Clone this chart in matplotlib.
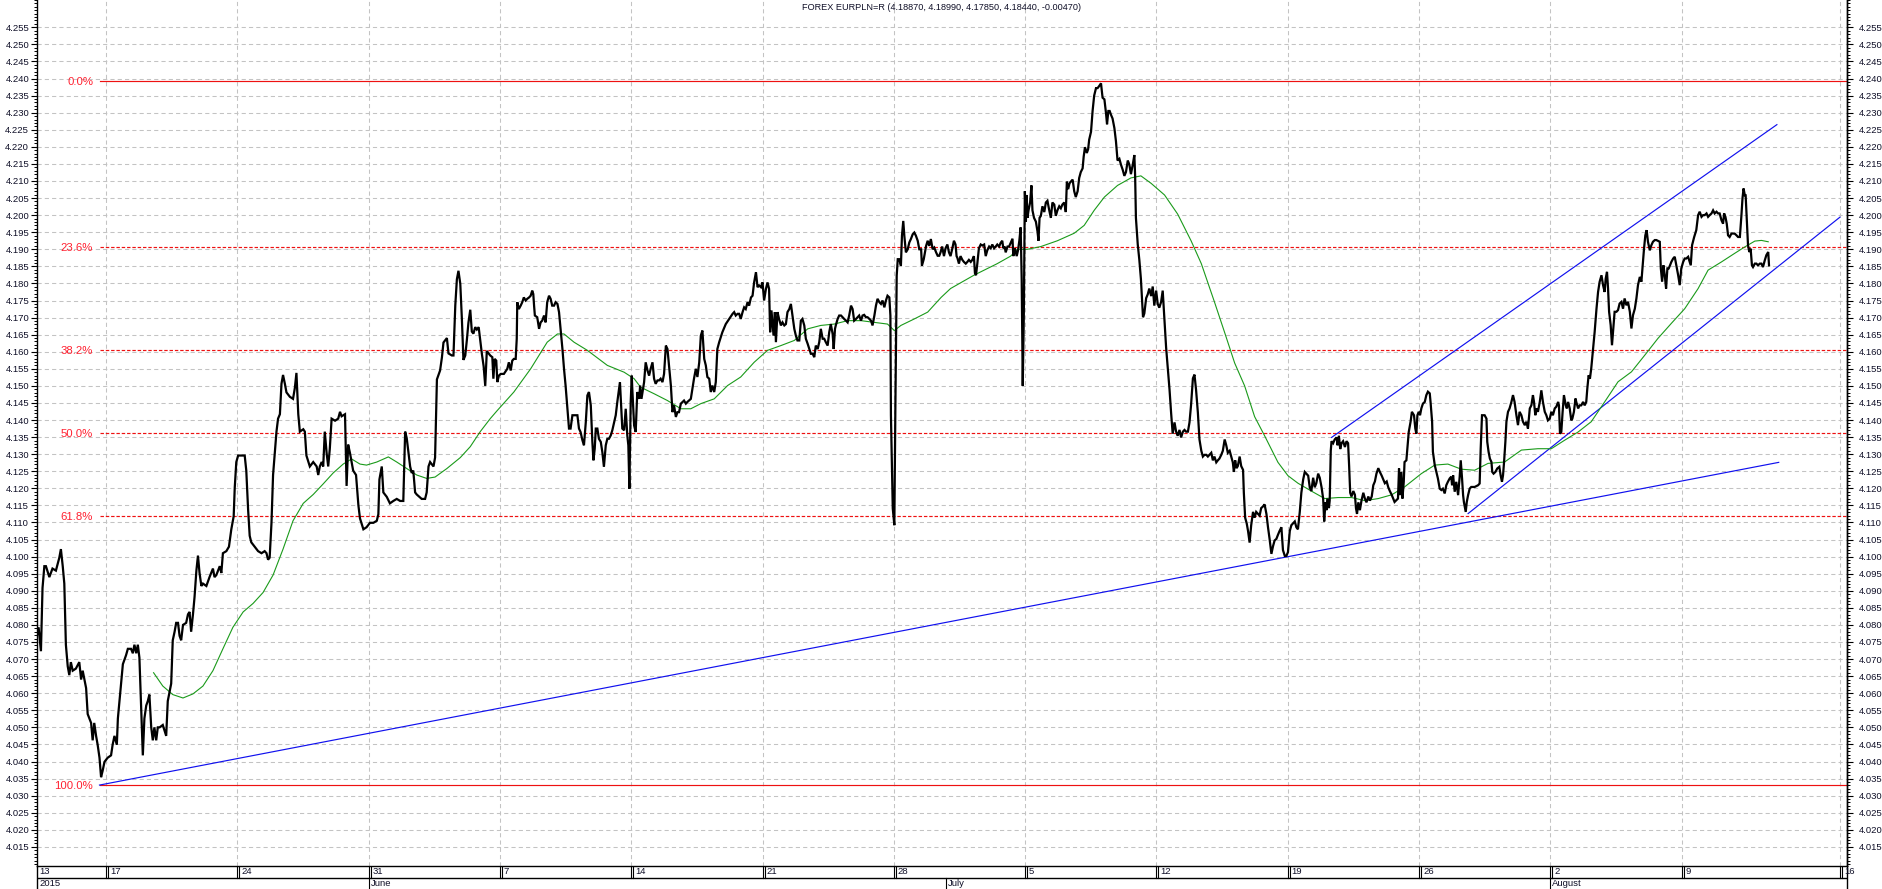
import matplotlib
matplotlib.use('Agg')
import matplotlib.pyplot as plt
import numpy as np
from matplotlib.ticker import MultipleLocator, FixedLocator, FormatStrFormatter
from matplotlib.transforms import offset_copy

plt.rcParams['font.family'] = ['Liberation Sans', 'DejaVu Sans']

title = "FOREX EURPLN=R (4.18870, 4.18990, 4.17850, 4.18440, -0.00470)"

# x = trading days counted from Mon 18 May 2015 (week tick "17"); y = EUR/PLN
seg_may = [(-2.67,4.0755),(-2.57,4.0793),(-2.48,4.0723),(-2.42,4.0908),(-2.35,4.0972),(-2.29,4.0972),(-2.16,4.0940),(-2.04,4.0965),(-1.91,4.0959),(-1.78,4.0997),(-1.72,4.1022),(-1.65,4.0972),(-1.59,4.0921),(-1.53,4.0742),(-1.46,4.0679),(-1.40,4.0653),(-1.34,4.0691),(-1.27,4.0666),(-1.15,4.0672),(-1.02,4.0691),(-0.95,4.0640),(-0.89,4.0666),(-0.76,4.0615),(-0.70,4.0539),(-0.57,4.0513),(-0.51,4.0462),(-0.45,4.0513),(-0.38,4.0475),(-0.32,4.0449),(-0.25,4.0411),(-0.19,4.0354),(-0.13,4.0373),(-0.06,4.0399),(0.06,4.0411),(0.19,4.0418),(0.25,4.0449),(0.32,4.0475),(0.41,4.0449),(0.45,4.0526),(0.57,4.0628),(0.64,4.0685),(0.76,4.0711),(0.83,4.0730),(0.95,4.0730),(1.02,4.0717),(1.08,4.0742),(1.15,4.0717),(1.21,4.0742),(1.27,4.0704),(1.34,4.0551),(1.40,4.0418),(1.46,4.0526),(1.53,4.0564),(1.59,4.0577),(1.65,4.0596),(1.72,4.0500),(1.78,4.0462),(1.84,4.0500),(1.91,4.0462),(1.97,4.0500),(2.04,4.0500),(2.16,4.0507),(2.29,4.0475),(2.35,4.0577),(2.48,4.0628),(2.54,4.0755),(2.61,4.0780),(2.67,4.0806),(2.74,4.0806),(2.80,4.0768),(2.86,4.0755),(2.93,4.0800),(3.05,4.0806),(3.12,4.0831),(3.18,4.0838),(3.24,4.0780),(3.31,4.0831),(3.37,4.0882),(3.44,4.0959),(3.50,4.1003),(3.56,4.0952),(3.63,4.0914),(3.69,4.0921),(3.82,4.0914),(3.94,4.0940),(4.07,4.0965),(4.13,4.0940),(4.20,4.0946),(4.33,4.0972),(4.39,4.0952),(4.45,4.1010),(4.58,4.1016),(4.68,4.1029),(4.77,4.1080),(4.86,4.1118),(4.90,4.1201),(4.96,4.1277),(5.03,4.1296),(5.15,4.1296),(5.28,4.1296),(5.34,4.1252),(5.41,4.1137),(5.47,4.1061),(5.53,4.1042),(5.66,4.1029),(5.79,4.1016),(5.92,4.1010),(6.04,4.1016),(6.11,4.1010),(6.17,4.0991),(6.23,4.0997),(6.30,4.1099),(6.36,4.1239),(6.49,4.1366),(6.55,4.1404),(6.62,4.1417),(6.68,4.1506),(6.74,4.1532),(6.81,4.1506),(6.87,4.1481),(7.00,4.1468),(7.12,4.1462),(7.19,4.1494),(7.25,4.1538),(7.32,4.1417),(7.38,4.1366),(7.51,4.1373),(7.57,4.1366),(7.63,4.1296),(7.76,4.1264),(7.89,4.1277),(8.02,4.1264),(8.08,4.1239),(8.14,4.1264),(8.21,4.1277),(8.27,4.1264),(8.33,4.1366),(8.40,4.1303),(8.46,4.1264),(8.52,4.1315),(8.59,4.1404),(8.72,4.1398),(8.84,4.1404),(8.91,4.1424),(8.97,4.1411),(9.10,4.1417),(9.16,4.1207),(9.22,4.1328),(9.29,4.1303),(9.41,4.1252),(9.52,4.1239),(9.61,4.1150),(9.67,4.1112),(9.80,4.1080),(9.92,4.1086),(10.05,4.1099),(10.18,4.1099),(10.31,4.1105),(10.37,4.1124),(10.41,4.1226),(10.50,4.1264),(10.56,4.1188),(10.69,4.1175),(10.81,4.1156),(10.94,4.1163),(11.07,4.1169),(11.20,4.1163),(11.32,4.1163),(11.39,4.1366),(11.45,4.1347),(11.58,4.1264),(11.64,4.1245),(11.70,4.1252),(11.77,4.1188),(11.83,4.1182),(12.02,4.1169),(12.15,4.1169),(12.21,4.1188),(12.28,4.1264),(12.34,4.1277),(12.47,4.1264),(12.53,4.1290),(12.60,4.1519),(12.72,4.1545),(12.79,4.1583),(12.85,4.1627),(12.98,4.1640),(13.04,4.1595),(13.17,4.1589),(13.23,4.1589),(13.30,4.1736),(13.36,4.1812),(13.42,4.1837),(13.49,4.1799),(13.55,4.1697),(13.61,4.1576),(13.68,4.1589),(13.74,4.1634),(13.80,4.1685),(13.87,4.1723),(13.93,4.1659),(13.99,4.1653),(14.06,4.1672),(14.12,4.1665),(14.19,4.1672),(14.31,4.1595),(14.38,4.1557),(14.44,4.1500),(14.50,4.1602),(14.57,4.1595),(14.63,4.1589)]

seg_june = [(14.71,4.1584),(14.75,4.1521),(14.80,4.1579),(14.86,4.1574),(14.90,4.1511),(14.96,4.1530),(15.03,4.1535),(15.15,4.1535),(15.28,4.1550),(15.34,4.1569),(15.41,4.1545),(15.47,4.1574),(15.53,4.1579),(15.60,4.1579),(15.64,4.1638),(15.66,4.1745),(15.72,4.1725),(15.79,4.1735),(15.85,4.1745),(15.91,4.1759),(15.98,4.1750),(16.04,4.1755),(16.11,4.1759),(16.17,4.1764),(16.23,4.1779),(16.27,4.1769),(16.30,4.1735),(16.33,4.1706),(16.42,4.1701),(16.49,4.1667),(16.55,4.1686),(16.61,4.1691),(16.68,4.1706),(16.74,4.1686),(16.80,4.1745),(16.87,4.1764),(16.93,4.1755),(16.99,4.1735),(17.06,4.1735),(17.12,4.1745),(17.19,4.1740),(17.25,4.1716),(17.31,4.1667),(17.38,4.1608),(17.44,4.1550),(17.50,4.1501),(17.57,4.1433),(17.63,4.1375),(17.69,4.1375),(17.76,4.1414),(17.88,4.1414),(17.95,4.1414),(18.01,4.1375),(18.07,4.1365),(18.14,4.1341),(18.20,4.1326),(18.27,4.1394),(18.33,4.1472),(18.39,4.1482),(18.46,4.1443),(18.52,4.1336),(18.56,4.1282),(18.61,4.1316),(18.65,4.1375),(18.71,4.1375),(18.77,4.1345),(18.84,4.1336),(18.90,4.1306),(18.96,4.1263),(19.03,4.1326),(19.09,4.1345),(19.15,4.1345),(19.22,4.1355),(19.28,4.1370),(19.35,4.1394),(19.41,4.1414),(19.47,4.1453),(19.54,4.1492),(19.57,4.1511),(19.62,4.1433),(19.66,4.1375),(19.73,4.1370),(19.79,4.1433),(19.85,4.1355),(19.89,4.1326),(19.93,4.1199),(19.98,4.1453),(20.02,4.1530),(20.04,4.1492),(20.11,4.1384),(20.17,4.1365),(20.23,4.1482),(20.30,4.1462),(20.34,4.1501),(20.39,4.1462),(20.43,4.1482),(20.49,4.1511),(20.55,4.1569),(20.62,4.1545),(20.68,4.1530),(20.74,4.1550),(20.81,4.1569),(20.87,4.1521),(20.93,4.1506),(21.00,4.1516),(21.06,4.1516),(21.12,4.1521),(21.19,4.1511),(21.25,4.1535),(21.32,4.1618),(21.38,4.1608),(21.44,4.1560),(21.51,4.1501),(21.57,4.1423),(21.63,4.1443),(21.70,4.1409),(21.76,4.1423),(21.82,4.1423),(21.89,4.1448),(22.01,4.1457),(22.08,4.1448),(22.14,4.1453),(22.20,4.1457),(22.27,4.1462),(22.33,4.1492),(22.39,4.1521),(22.46,4.1550),(22.52,4.1526),(22.59,4.1569),(22.65,4.1647),(22.71,4.1662),(22.78,4.1579),(22.84,4.1560),(22.90,4.1526),(22.97,4.1521),(23.03,4.1482),(23.09,4.1501),(23.16,4.1482),(23.22,4.1511),(23.28,4.1608),(23.35,4.1628),(23.47,4.1657),(23.60,4.1681),(23.73,4.1696),(23.86,4.1711),(23.92,4.1716),(23.98,4.1706),(24.05,4.1711),(24.11,4.1711),(24.17,4.1696),(24.24,4.1716),(24.30,4.1730),(24.36,4.1725),(24.43,4.1745),(24.49,4.1735),(24.56,4.1759),(24.62,4.1764),(24.68,4.1803),(24.75,4.1833),(24.81,4.1789),(24.87,4.1794),(24.94,4.1789),(25.00,4.1803),(25.06,4.1750),(25.13,4.1784),(25.19,4.1803),(25.25,4.1784),(25.29,4.1657),(25.34,4.1721),(25.42,4.1647),(25.47,4.1716),(25.51,4.1628),(25.57,4.1716),(25.63,4.1696),(25.70,4.1677),(25.76,4.1686),(25.83,4.1677),(25.89,4.1681),(25.95,4.1716),(26.02,4.1725),(26.08,4.1740),(26.14,4.1706),(26.21,4.1667),(26.27,4.1647),(26.33,4.1633),(26.40,4.1633),(26.46,4.1691),(26.52,4.1696),(26.59,4.1677),(26.65,4.1638),(26.72,4.1623),(26.78,4.1608),(26.84,4.1594),(26.91,4.1594),(26.97,4.1584),(27.03,4.1618),(27.10,4.1608),(27.16,4.1628),(27.22,4.1667),(27.29,4.1638),(27.35,4.1638),(27.41,4.1628),(27.48,4.1618),(27.54,4.1657),(27.60,4.1681),(27.67,4.1652),(27.71,4.1608),(27.76,4.1667),(27.79,4.1677),(27.86,4.1696),(27.92,4.1706),(27.99,4.1706),(28.05,4.1701),(28.11,4.1696),(28.18,4.1691),(28.24,4.1686),(28.30,4.1706),(28.37,4.1735),(28.43,4.1725),(28.49,4.1691),(28.56,4.1696),(28.62,4.1701),(28.68,4.1706),(28.75,4.1691),(28.81,4.1706),(28.87,4.1708),(28.94,4.1701),(29.00,4.1701),(29.07,4.1696),(29.13,4.1691),(29.19,4.1677),(29.26,4.1706),(29.32,4.1735),(29.38,4.1755),(29.45,4.1745),(29.51,4.1740),(29.57,4.1750),(29.64,4.1730),(29.70,4.1750),(29.76,4.1764),(29.83,4.1759),(29.87,4.1706),(29.89,4.1414),(29.96,4.1141),(30.02,4.1092),(30.06,4.1443),(30.11,4.1823),(30.15,4.1871),(30.21,4.1871),(30.27,4.1852),(30.31,4.1940),(30.36,4.1983),(30.40,4.1940),(30.46,4.1891),(30.53,4.1900),(30.59,4.1920),(30.65,4.1930),(30.72,4.1944),(30.78,4.1949),(30.84,4.1940),(30.91,4.1925),(30.97,4.1900),(31.04,4.1900),(31.07,4.1852),(31.14,4.1871),(31.23,4.1910),(31.29,4.1925),(31.35,4.1910),(31.41,4.1930),(31.48,4.1900),(31.54,4.1905),(31.61,4.1891),(31.67,4.1881),(31.73,4.1881)]

seg_july = [(31.78,4.1891),(31.84,4.1908),(31.91,4.1880),(31.97,4.1903),(32.04,4.1914),(32.10,4.1891),(32.16,4.1880),(32.23,4.1903),(32.29,4.1925),(32.35,4.1914),(32.39,4.1880),(32.42,4.1875),(32.48,4.1858),(32.54,4.1880),(32.61,4.1869),(32.67,4.1863),(32.74,4.1858),(32.80,4.1863),(32.86,4.1869),(32.93,4.1863),(32.99,4.1869),(33.05,4.1880),(33.09,4.1830),(33.13,4.1824),(33.18,4.1858),(33.24,4.1903),(33.31,4.1914),(33.37,4.1911),(33.44,4.1914),(33.50,4.1880),(33.56,4.1897),(33.63,4.1908),(33.69,4.1903),(33.75,4.1914),(33.82,4.1903),(33.88,4.1908),(33.94,4.1914),(34.01,4.1908),(34.07,4.1919),(34.13,4.1925),(34.17,4.1903),(34.22,4.1908),(34.26,4.1891),(34.33,4.1908),(34.39,4.1908),(34.45,4.1919),(34.52,4.1931),(34.55,4.1880),(34.61,4.1903),(34.68,4.1880),(34.73,4.1897),(34.78,4.1925),(34.83,4.1964),(34.87,4.1813),(34.91,4.1500),(34.95,4.1701),(34.99,4.2070),(35.03,4.1981),(35.06,4.2059),(35.09,4.1992),(35.13,4.2014),(35.19,4.2037),(35.24,4.2087),(35.28,4.2014),(35.34,4.1992),(35.41,4.1981),(35.47,4.1953),(35.51,4.1925),(35.55,4.1992),(35.60,4.1998),(35.66,4.2026),(35.73,4.2009),(35.79,4.2037),(35.85,4.2042),(35.92,4.2014),(35.98,4.1992),(36.04,4.2037),(36.11,4.2031),(36.17,4.1998),(36.23,4.2014),(36.30,4.2026),(36.36,4.2020),(36.42,4.2031),(36.49,4.2037),(36.55,4.2009),(36.59,4.2098),(36.64,4.2076),(36.69,4.2093),(36.74,4.2098),(36.81,4.2104),(36.87,4.2070),(36.93,4.2053),(37.00,4.2070),(37.06,4.2109),(37.12,4.2126),(37.19,4.2137),(37.23,4.2171),(37.28,4.2199),(37.35,4.2182),(37.40,4.2193),(37.44,4.2221),(37.51,4.2244),(37.57,4.2305),(37.63,4.2350),(37.70,4.2372),(37.76,4.2372),(37.82,4.2378),(37.89,4.2386),(37.95,4.2344),(38.02,4.2339),(38.08,4.2299),(38.12,4.2266),(38.17,4.2305),(38.22,4.2305),(38.27,4.2294),(38.33,4.2283),(38.40,4.2255),(38.46,4.2216),(38.52,4.2160),(38.59,4.2165),(38.65,4.2148),(38.72,4.2132),(38.78,4.2115),(38.84,4.2126),(38.91,4.2160),(38.97,4.2148),(39.03,4.2120),(39.10,4.2148),(39.16,4.2176),(39.19,4.2115),(39.22,4.1992),(39.29,4.1914),(39.35,4.1869),(39.41,4.1813),(39.45,4.1757),(39.49,4.1701),(39.54,4.1712),(39.61,4.1757),(39.67,4.1768),(39.73,4.1785),(39.80,4.1763),(39.86,4.1791),(39.92,4.1735),(39.99,4.1779),(40.05,4.1740),(40.11,4.1729),(40.18,4.1746),(40.24,4.1779),(40.31,4.1690),(40.37,4.1612),(40.43,4.1556),(40.50,4.1489),(40.56,4.1421),(40.62,4.1360),(40.69,4.1393),(40.75,4.1366),(40.81,4.1354),(40.88,4.1371),(40.94,4.1349),(41.01,4.1366),(41.07,4.1371),(41.13,4.1366),(41.20,4.1366),(41.26,4.1393),(41.32,4.1444),(41.39,4.1522),(41.45,4.1533),(41.51,4.1489),(41.58,4.1421),(41.64,4.1343),(41.71,4.1310),(41.77,4.1293),(41.83,4.1298),(41.90,4.1298),(41.96,4.1293),(42.02,4.1298),(42.09,4.1304),(42.15,4.1282),(42.21,4.1293),(42.28,4.1276),(42.34,4.1282),(42.40,4.1287),(42.47,4.1298),(42.53,4.1310),(42.60,4.1343),(42.66,4.1326),(42.72,4.1304),(42.79,4.1310),(42.85,4.1293),(42.91,4.1276),(42.95,4.1248),(43.00,4.1282),(43.05,4.1259),(43.10,4.1265),(43.17,4.1293),(43.23,4.1265),(43.30,4.1254),(43.33,4.1187),(43.38,4.1114),(43.44,4.1097),(43.49,4.1075),(43.55,4.1041),(43.61,4.1092),(43.68,4.1131),(43.74,4.1114),(43.80,4.1131),(43.87,4.1125),(43.93,4.1120),(43.99,4.1142),(44.06,4.1147),(44.12,4.1153),(44.19,4.1125),(44.25,4.1086),(44.31,4.1052),(44.38,4.1008),(44.44,4.1030),(44.50,4.1047),(44.57,4.1052),(44.63,4.1064),(44.69,4.1075),(44.76,4.1086),(44.82,4.1019),(44.89,4.1002),(44.95,4.1002),(45.01,4.1013),(45.08,4.1075),(45.14,4.1092),(45.20,4.1097),(45.27,4.1103),(45.33,4.1086),(45.39,4.1080),(45.46,4.1131),(45.52,4.1187),(45.59,4.1226),(45.65,4.1248),(45.71,4.1243),(45.78,4.1237),(45.84,4.1203),(45.90,4.1192),(45.97,4.1231),(46.03,4.1203),(46.09,4.1215),(46.16,4.1243),(46.22,4.1231),(46.29,4.1203),(46.35,4.1170),(46.39,4.1103),(46.44,4.1159),(46.48,4.1136),(46.51,4.1170),(46.57,4.1142),(46.60,4.1164),(46.64,4.1310),(46.67,4.1338),(46.73,4.1332),(46.79,4.1343),(46.86,4.1349),(46.90,4.1326),(46.95,4.1354),(47.00,4.1315),(47.05,4.1332),(47.11,4.1338),(47.18,4.1321),(47.24,4.1338),(47.30,4.1332),(47.34,4.1265),(47.38,4.1187),(47.43,4.1176),(47.50,4.1192),(47.56,4.1181),(47.60,4.1142),(47.64,4.1125),(47.69,4.1159),(47.75,4.1136),(47.81,4.1164),(47.88,4.1187),(47.94,4.1170),(48.00,4.1159),(48.07,4.1176),(48.13,4.1164),(48.20,4.1176),(48.26,4.1209),(48.32,4.1220),(48.38,4.1243),(48.45,4.1259),(48.51,4.1248),(48.58,4.1237),(48.64,4.1226),(48.70,4.1215),(48.77,4.1220),(48.83,4.1203),(48.89,4.1192),(48.96,4.1181)]

seg_august = [(49.07,4.1160),(49.20,4.1170),(49.24,4.1258),(49.28,4.1180),(49.33,4.1248),(49.37,4.1170),(49.42,4.1219),(49.45,4.1277),(49.52,4.1282),(49.58,4.1336),(49.61,4.1365),(49.68,4.1395),(49.73,4.1424),(49.81,4.1414),(49.86,4.1375),(49.90,4.1360),(49.94,4.1414),(49.99,4.1424),(50.04,4.1414),(50.09,4.1434),(50.15,4.1448),(50.22,4.1453),(50.28,4.1473),(50.34,4.1483),(50.41,4.1478),(50.44,4.1453),(50.50,4.1395),(50.53,4.1307),(50.60,4.1268),(50.66,4.1248),(50.72,4.1229),(50.79,4.1199),(50.85,4.1195),(50.91,4.1199),(50.98,4.1185),(51.04,4.1209),(51.10,4.1219),(51.17,4.1229),(51.23,4.1234),(51.26,4.1209),(51.30,4.1238),(51.36,4.1190),(51.42,4.1219),(51.49,4.1180),(51.55,4.1234),(51.59,4.1282),(51.64,4.1229),(51.68,4.1180),(51.71,4.1160),(51.78,4.1131),(51.82,4.1160),(51.87,4.1180),(51.93,4.1199),(51.99,4.1204),(52.12,4.1204),(52.25,4.1209),(52.31,4.1214),(52.35,4.1316),(52.40,4.1414),(52.50,4.1414),(52.57,4.1404),(52.60,4.1336),(52.65,4.1307),(52.70,4.1287),(52.76,4.1277),(52.79,4.1248),(52.84,4.1243),(52.91,4.1248),(52.98,4.1258),(53.06,4.1263),(53.11,4.1238),(53.16,4.1219),(53.20,4.1238),(53.24,4.1277),(53.29,4.1336),(53.33,4.1395),(53.39,4.1424),(53.45,4.1434),(53.52,4.1453),(53.58,4.1473),(53.64,4.1453),(53.71,4.1414),(53.77,4.1385),(53.83,4.1424),(53.90,4.1414),(53.96,4.1395),(54.03,4.1385),(54.09,4.1395),(54.15,4.1375),(54.22,4.1434),(54.28,4.1443),(54.34,4.1473),(54.38,4.1453),(54.43,4.1414),(54.47,4.1434),(54.53,4.1424),(54.60,4.1453),(54.66,4.1487),(54.72,4.1453),(54.79,4.1424),(54.85,4.1414),(54.91,4.1399),(54.98,4.1404),(55.04,4.1424),(55.10,4.1414),(55.17,4.1434),(55.23,4.1439),(55.30,4.1453),(55.33,4.1443),(55.37,4.1360),(55.42,4.1365),(55.47,4.1424),(55.52,4.1473),(55.59,4.1443),(55.63,4.1434),(55.68,4.1453),(55.74,4.1434),(55.80,4.1399),(55.84,4.1404),(55.90,4.1424),(55.96,4.1463),(55.99,4.1453),(56.06,4.1434),(56.12,4.1443),(56.18,4.1443),(56.25,4.1453),(56.31,4.1443),(56.37,4.1453),(56.41,4.1492),(56.46,4.1531),(56.51,4.1521),(56.56,4.1551),(56.63,4.1609),(56.69,4.1658),(56.76,4.1726),(56.82,4.1775),(56.88,4.1805),(56.95,4.1824),(57.01,4.1795),(57.07,4.1775),(57.11,4.1814),(57.16,4.1834),(57.20,4.1785),(57.24,4.1717),(57.30,4.1678),(57.35,4.1619),(57.40,4.1668),(57.45,4.1717),(57.52,4.1717),(57.58,4.1722),(57.64,4.1741),(57.71,4.1746),(57.77,4.1726),(57.83,4.1756),(57.90,4.1736),(57.96,4.1746),(58.03,4.1717),(58.09,4.1668),(58.15,4.1707),(58.22,4.1726),(58.28,4.1756),(58.34,4.1795),(58.41,4.1819),(58.47,4.1805),(58.51,4.1844),(58.57,4.1902),(58.62,4.1941),(58.67,4.1956),(58.72,4.1922),(58.79,4.1897),(58.85,4.1912),(58.91,4.1922),(58.98,4.1927),(59.04,4.1927),(59.17,4.1922),(59.21,4.1844),(59.26,4.1805),(59.31,4.1853),(59.36,4.1824),(59.41,4.1785),(59.46,4.1844),(59.51,4.1844),(59.56,4.1853),(59.61,4.1863),(59.68,4.1873),(59.74,4.1878),(59.80,4.1853),(59.87,4.1824),(59.93,4.1795),(59.99,4.1844),(60.06,4.1863),(60.12,4.1873),(60.18,4.1873),(60.25,4.1878),(60.31,4.1863),(60.35,4.1853),(60.40,4.1912),(60.48,4.1936),(60.56,4.1956),(60.63,4.2000),(60.69,4.2010),(60.76,4.1995),(60.82,4.2000),(60.88,4.2000),(60.95,4.2005),(61.01,4.1995),(61.07,4.2000),(61.14,4.2005),(61.20,4.2014),(61.26,4.2005),(61.33,4.2010),(61.39,4.2005),(61.45,4.2005),(61.52,4.1985),(61.58,4.1975),(61.62,4.2005),(61.67,4.1995),(61.72,4.1975),(61.77,4.1941),(61.83,4.1936),(61.90,4.1946),(61.96,4.1946),(62.02,4.1946),(62.09,4.1941),(62.15,4.1936),(62.22,4.1936),(62.28,4.2000),(62.32,4.2049),(62.36,4.2078),(62.41,4.2058),(62.44,4.2058),(62.48,4.1990),(62.53,4.1912),(62.58,4.1892),(62.63,4.1902),(62.68,4.1853),(62.72,4.1848),(62.79,4.1858),(62.85,4.1858),(62.91,4.1853),(62.98,4.1858),(63.04,4.1858),(63.10,4.1848),(63.17,4.1868),(63.23,4.1883),(63.30,4.1892),(63.33,4.1853)]

# moving average (green)
ma_points = [(1.81,4.0660),(2.16,4.0621),(2.54,4.0596),(2.93,4.0586),(3.31,4.0598),(3.69,4.0621),(4.07,4.0666),(4.45,4.0730),(4.83,4.0793),(5.22,4.0838),(5.60,4.0863),(5.98,4.0895),(6.36,4.0946),(6.74,4.1022),(7.12,4.1105),(7.51,4.1156),(7.89,4.1182),(8.27,4.1213),(8.65,4.1245),(9.03,4.1271),(9.35,4.1286),(9.67,4.1271),(9.92,4.1268),(10.31,4.1277),(10.75,4.1292),(11.07,4.1277),(11.45,4.1258),(11.83,4.1239),(12.21,4.1229),(12.53,4.1233),(12.98,4.1258),(13.49,4.1290),(13.87,4.1322),(14.25,4.1366),(14.63,4.1404),(14.90,4.1428),(15.53,4.1482),(16.17,4.1550),(16.80,4.1628),(17.19,4.1652),(17.44,4.1652),(17.82,4.1628),(18.33,4.1604),(19.09,4.1560),(19.73,4.1540),(20.11,4.1521),(20.36,4.1496),(20.87,4.1477),(21.38,4.1457),(21.89,4.1433),(22.27,4.1433),(22.65,4.1448),(23.16,4.1462),(23.67,4.1501),(24.17,4.1526),(24.68,4.1569),(25.19,4.1604),(25.70,4.1618),(26.21,4.1633),(26.72,4.1667),(27.22,4.1677),(27.73,4.1681),(28.24,4.1691),(28.75,4.1691),(29.26,4.1686),(29.76,4.1681),(30.02,4.1662),(30.27,4.1677),(30.78,4.1696),(31.29,4.1716),(31.80,4.1759),(32.16,4.1785),(33.05,4.1824),(33.94,4.1858),(34.45,4.1880),(34.71,4.1900),(35.09,4.1900),(35.60,4.1908),(36.23,4.1925),(36.87,4.1947),(37.25,4.1970),(37.63,4.2014),(38.02,4.2053),(38.52,4.2087),(39.03,4.2109),(39.41,4.2115),(39.80,4.2093),(40.31,4.2059),(40.81,4.2003),(41.32,4.1925),(41.71,4.1858),(42.21,4.1746),(42.60,4.1656),(42.98,4.1567),(43.36,4.1500),(43.74,4.1410),(44.12,4.1354),(44.63,4.1276),(45.01,4.1237),(45.39,4.1215),(45.90,4.1192),(46.41,4.1170),(46.92,4.1173),(47.43,4.1173),(47.94,4.1164),(48.45,4.1170),(48.96,4.1181),(49.45,4.1204),(50.09,4.1243),(50.60,4.1268),(51.10,4.1271),(51.61,4.1256),(52.12,4.1253),(52.63,4.1273),(53.26,4.1277),(53.90,4.1312),(54.53,4.1316),(55.04,4.1316),(55.55,4.1341),(56.06,4.1365),(56.56,4.1395),(57.07,4.1453),(57.58,4.1512),(58.09,4.1541),(58.60,4.1590),(59.10,4.1639),(59.61,4.1683),(60.12,4.1726),(60.63,4.1785),(61.01,4.1839),(61.52,4.1863),(62.02,4.1888),(62.41,4.1907),(62.79,4.1924),(63.04,4.1926),(63.30,4.1922)]

# Fibonacci retracement
fib_high = 4.2392
fib_low = 4.0331
fib_ratios = [0.0, 0.236, 0.382, 0.5, 0.618, 1.0]
fib_labels = ['0.0%', '23.6%', '38.2%', '50.0%', '61.8%', '100.0%']
fib_start = -0.23

# trend lines (start day, start value, end day, end value)
trend_lines = [(-0.25, 4.0331, 63.70, 4.1276),
               (46.67, 4.1349, 63.63, 4.2265),
               (51.87, 4.1126, 66.03, 4.1994)]

week_pos = [0, 5, 10, 15, 20, 25, 30, 35, 40, 45, 50, 55, 60, 66.05]
week_labels = ['17', '24', '31', '7', '14', '21', '28', '5', '12', '19', '26', '2', '9', '16']
first_label = '13'
month_pos = [10, 32, 55]
month_labels = ['June', 'July', 'August']
year_label = '2015'

xlim = (-2.63, 66.30)
ylim = (4.0094, 4.2630)

# ---------------------------------------------------------------
W, H = 1883, 889
fig = plt.figure(figsize=(W / 100, H / 100), dpi=100)
L, R = 37, 1847
strip = 23
ax = fig.add_axes([L / W, strip / H, (R - L) / W, (H - strip) / H])
ax.set_xlim(*xlim)
ax.set_ylim(*ylim)
ax.spines['top'].set_visible(False)
for s in ['left', 'right', 'bottom']:
    ax.spines[s].set_linewidth(1.0)
    ax.spines[s].set_color('black')

grid_kw = dict(color='#c3c3c3', lw=0.75, ls=(0, (4, 3)), zorder=0)
ax.set_xticks(week_pos)
ax.tick_params(axis='x', length=0, labelbottom=False)
ax.grid(True, axis='x', **{k: v for k, v in grid_kw.items() if k != 'zorder'})

major = np.round(np.arange(4.015, 4.2551, 0.005), 3)
ax.yaxis.set_major_locator(FixedLocator(major))
ax.yaxis.set_minor_locator(MultipleLocator(0.001))
ax.yaxis.set_major_formatter(FormatStrFormatter('%.3f'))
ax.grid(True, axis='y', which='major', color='#c3c3c3', lw=0.75, ls=(0, (4, 3)))
ax.set_axisbelow(True)
ax.tick_params(axis='y', which='major', direction='out', length=4.5, width=0.8,
               pad=1.2, labelsize=6.8, labelcolor='#101028')
ax.tick_params(axis='y', which='minor', direction='out', length=2.2, width=0.7)

axr = ax.twinx()
axr.set_ylim(*ylim)
axr.yaxis.set_major_locator(FixedLocator(major))
axr.yaxis.set_minor_locator(MultipleLocator(0.001))
axr.yaxis.set_major_formatter(FormatStrFormatter('%.3f'))
axr.tick_params(axis='y', which='major', direction='out', length=4.0, width=0.8,
                pad=4.5, labelsize=6.8, labelcolor='#101028')
axr.tick_params(axis='y', which='minor', direction='out', length=2.2, width=0.7)
for s in ['top', 'left', 'bottom']:
    axr.spines[s].set_visible(False)
axr.spines['right'].set_linewidth(1.0)

# Fibonacci levels
for r, lab in zip(fib_ratios, fib_labels):
    lvl = fib_high - r * (fib_high - fib_low)
    ls = '-' if r in (0.0, 1.0) else (0, (2.9, 1.6))
    ax.plot([fib_start, xlim[1]], [lvl, lvl], color='#ee1111', lw=0.85, ls=ls, zorder=2)
    ax.annotate(lab, xy=(fib_start, lvl), xytext=(-7, -1), textcoords='offset pixels',
                ha='right', va='center', color='#ff2030', fontsize=8.2)

# trend lines
for x0, y0, x1, y1 in trend_lines:
    ax.plot([x0, x1], [y0, y1], color='#1010ee', lw=0.85, zorder=3)

# moving average
mx, my = zip(*ma_points)
ax.plot(mx, my, color='#1a9a1a', lw=0.8, zorder=4)

# price
px, py = zip(*(seg_may + seg_june + seg_july + seg_august))
ax.plot(px, py, color='black', lw=1.6, zorder=5, solid_joinstyle='miter')

ax.text(0.5, 1 - 7 / (H - strip), title, transform=ax.transAxes, ha='center',
        va='center', fontsize=6.6, color='#101028')

# date strip
ax2 = fig.add_axes([L / W, 0, (R - L) / W, strip / H])
ax2.set_xlim(*xlim)
ax2.set_ylim(0, 1)
ax2.set_xticks([])
ax2.set_yticks([])
ax2.patch.set_alpha(0)
for s in ['top', 'bottom']:
    ax2.spines[s].set_visible(False)
for s in ['left', 'right']:
    ax2.spines[s].set_linewidth(1.0)
row = 11 / strip
ax2.axhline(row, color='black', lw=1.0)
off = offset_copy(ax2.transData, fig=fig, x=2, y=0, units='dots')
for x, lab in zip(week_pos, week_labels):
    ax2.plot([x, x], [row, 1], color='black', lw=0.8)
    ax2.plot([x, x], [row, 1], color='black', lw=0.8, transform=off)
    ax2.annotate(lab, xy=(x, (row + 1) / 2), xytext=(4, 0), textcoords='offset pixels',
                 ha='left', va='center', fontsize=6.8, color='#101028')
ax2.annotate(first_label, xy=(xlim[0], (row + 1) / 2), xytext=(2, 0),
             textcoords='offset pixels', ha='left', va='center', fontsize=6.8, color='#101028')
ax2.annotate(year_label, xy=(xlim[0], row / 2), xytext=(2, 0),
             textcoords='offset pixels', ha='left', va='center', fontsize=6.8, color='#101028')
for x, lab in zip(month_pos, month_labels):
    ax2.plot([x, x], [0, row], color='black', lw=0.8)
    ax2.annotate(lab, xy=(x, row / 2), xytext=(2, 0), textcoords='offset pixels',
                 ha='left', va='center', fontsize=6.8, color='#101028')

fig.savefig('out.png', dpi=100)
